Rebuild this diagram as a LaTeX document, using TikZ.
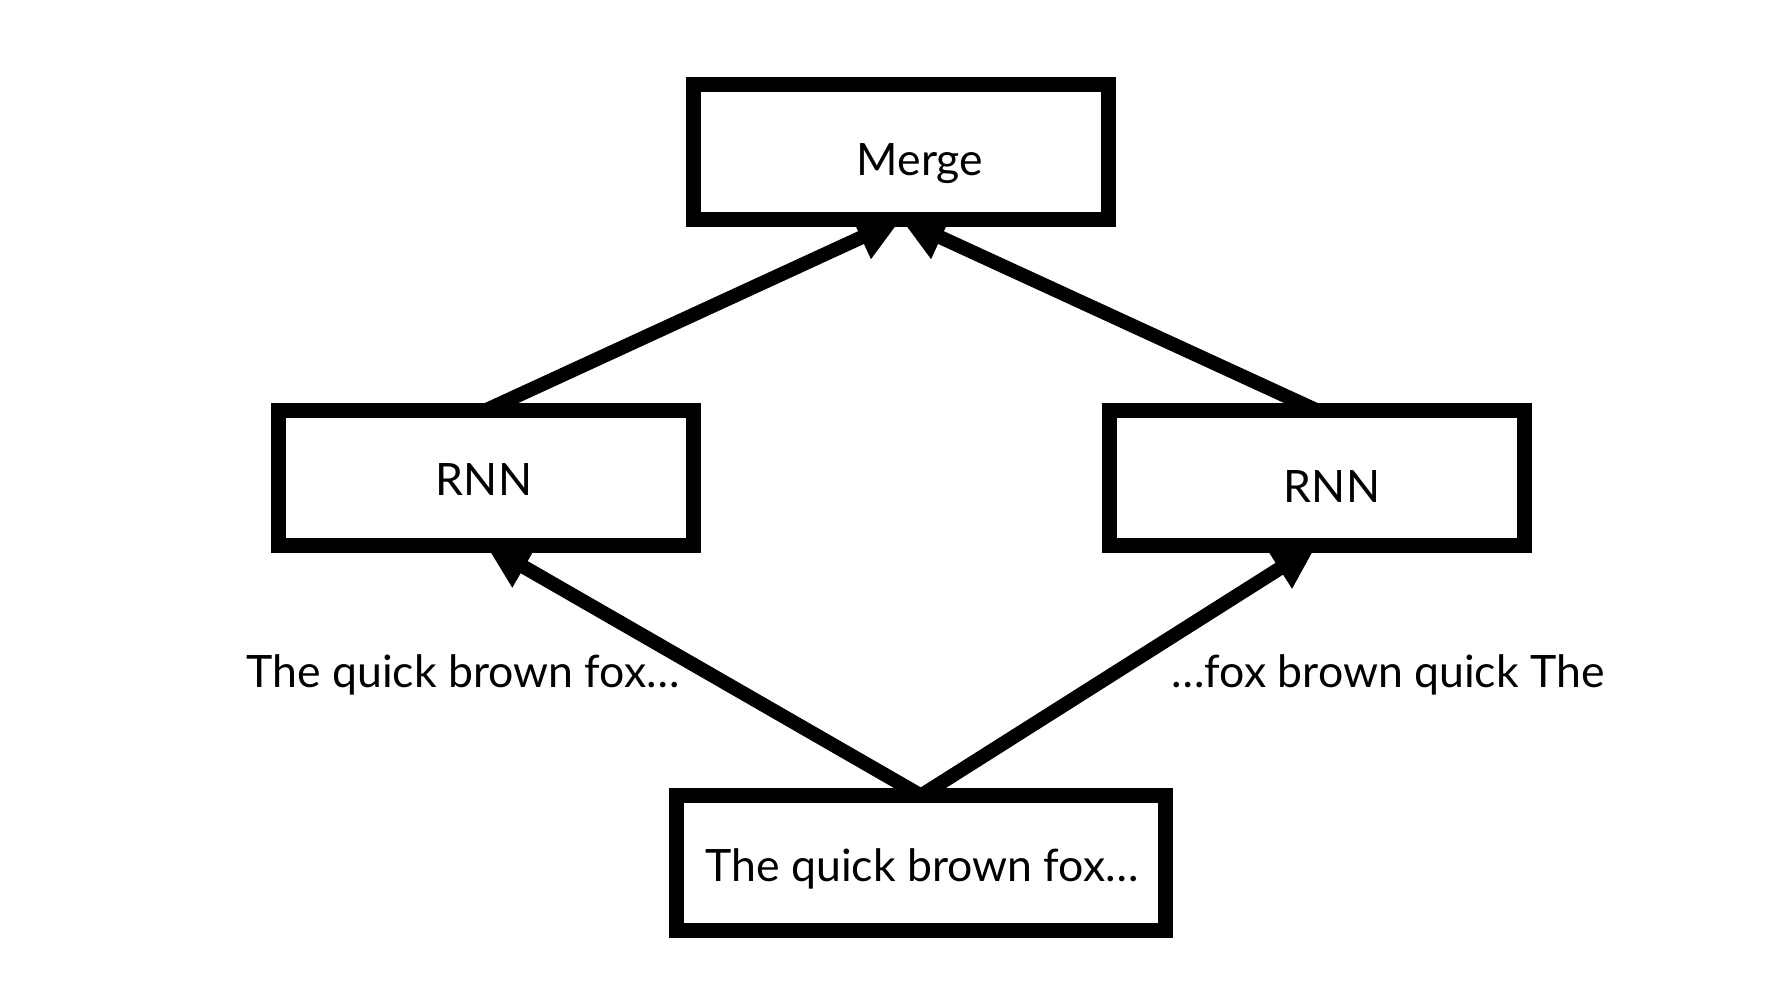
\documentclass[tikz,border=0pt]{standalone}
\usepackage{fontspec}
\setmainfont{Lato}
\usetikzlibrary{arrows.meta}
\tikzset{
  box/.style={draw=black, fill=white, line width=15pt, inner sep=0pt, outer sep=0pt,
    minimum width=415pt, minimum height=135pt},
  txt/.style={font=\fontsize{44.6}{52}\selectfont, inner sep=0pt, anchor=base},
  conn/.style={line width=14pt, -{Triangle[length=44pt,width=44pt]}}
}
\begin{document}
\begin{tikzpicture}[x=1pt,y=-1pt]
\useasboundingbox (0,0) rectangle (1778,1000);
\node[box] (merge) at (901,151.7) {};
\node[box] (rnnl) at (486,477.7) {};
\node[box] (rnnr) at (1316.5,477.7) {};
\node[box, minimum width=489pt] (input) at (921,863) {};
\node[txt] (tmerge) at (920,176) {Merge};
\node[txt] (trnnl) at (484,495) {RNN};
\node[txt] (trnnr) at (1332,502) {RNN};
\node[txt] (tinput) at (922,881) {The quick brown fox…};
\node[txt] (lblf) at (463,687) {The quick brown fox…};
\node[txt] (lblb) at (1388,687) {…fox brown quick The};
\draw[conn] (rnnl.north) -- (merge.south);
\draw[conn] (rnnr.north) -- (merge.south);
\draw[conn] (input.north) -- (rnnl.south);
\draw[conn] (input.north) -- (rnnr.south);
\end{tikzpicture}
\end{document}
